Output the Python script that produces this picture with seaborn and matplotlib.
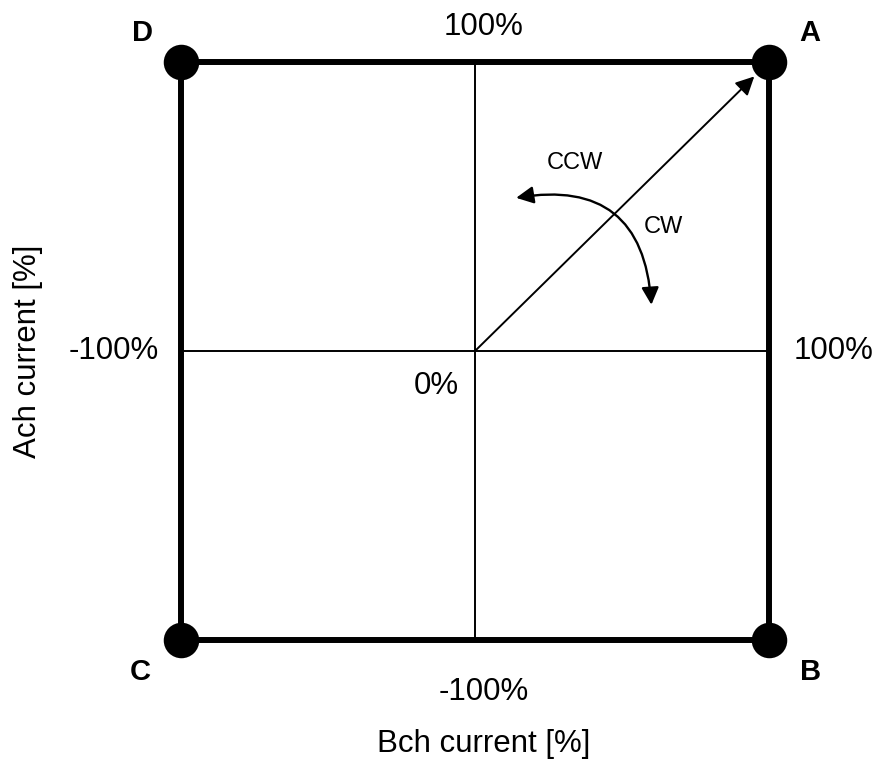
import numpy as np
import pandas as pd
import matplotlib
matplotlib.use("Agg")
import matplotlib.pyplot as plt
import seaborn as sns
from matplotlib.patches import FancyArrowPatch

# corner points of the Ach / Bch current square
corner_names = ["A", "B", "C", "D"]
corner_x = [100, 100, -100, -100]
corner_y = [100, -100, -100, 100]

# percent labels on the cross
pct_labels = ["100%", "100%", "-100%", "-100%", "0%"]

# current vector and rotation arc
vec_end = [95, 95]
arc_start = [14, 53]
arc_end = [60, 16]

sns.set_style("white")
plt.rcParams["font.family"] = ["Liberation Sans", "DejaVu Sans"]
plt.rcParams["text.color"] = "black"

fig = plt.figure(figsize=(8.81, 7.62), dpi=100)
ax = fig.add_axes([0, 0, 1, 1])

# square border (closed)
sq = pd.DataFrame({"x": corner_x + corner_x[:1], "y": corner_y + corner_y[:1]})
sns.lineplot(data=sq, x="x", y="y", sort=False, color="black", lw=4.3, ax=ax,
             estimator=None)

# center cross
cross_h = pd.DataFrame({"x": [-100, 100], "y": [0, 0]})
cross_v = pd.DataFrame({"x": [0, 0], "y": [-100, 100]})
sns.lineplot(data=cross_h, x="x", y="y", color="black", lw=1.4, ax=ax)
sns.lineplot(data=cross_v, x="x", y="y", color="black", lw=1.4, ax=ax, sort=False,
             estimator=None)

# corner dots
sns.scatterplot(x=corner_x, y=corner_y, s=560, color="black", edgecolor="black",
                ax=ax, zorder=5)

# diagonal vector
ax.annotate("", xy=(vec_end[0], vec_end[1]), xytext=(0, 0),
            arrowprops=dict(arrowstyle="-|>", color="black", lw=1.4,
                            mutation_scale=28, shrinkA=0, shrinkB=0))

# CCW / CW arc
arc = FancyArrowPatch(tuple(arc_start), tuple(arc_end), arrowstyle="<|-|>",
                      connectionstyle="arc3,rad=-0.55", color="black", lw=1.7,
                      mutation_scale=26, shrinkA=0, shrinkB=0)
ax.add_patch(arc)
ax.text(34, 65, "CCW", fontsize=17, ha="center", va="center")
ax.text(64, 43, "CW", fontsize=17, ha="center", va="center")

# corner letters
lbl_pos = [(114, 110), (114, -111), (-114, -111), (-113, 110)]
for name, (lx, ly) in zip(corner_names, lbl_pos):
    ax.text(lx, ly, name, fontsize=21, fontweight="bold", ha="center", va="center")

# percent labels
pct_pos = [(3, 112), (122, 0), (-123, 0), (3, -118), (-13, -12)]
for t, (px, py) in zip(pct_labels, pct_pos):
    ax.text(px, py, t, fontsize=22.5, ha="center", va="center")

# axis titles
ax.text(3, -136, "Bch current [%]", fontsize=22.5, ha="center", va="center")
ax.text(-152, 0, "Ach current [%]", fontsize=22.5, ha="center", va="center",
        rotation=90)

ax.set_xlim(-161.56, 138.1)
ax.set_ylim(-142.2, 121.45)
ax.axis("off")

fig.savefig("out.png", dpi=100)
